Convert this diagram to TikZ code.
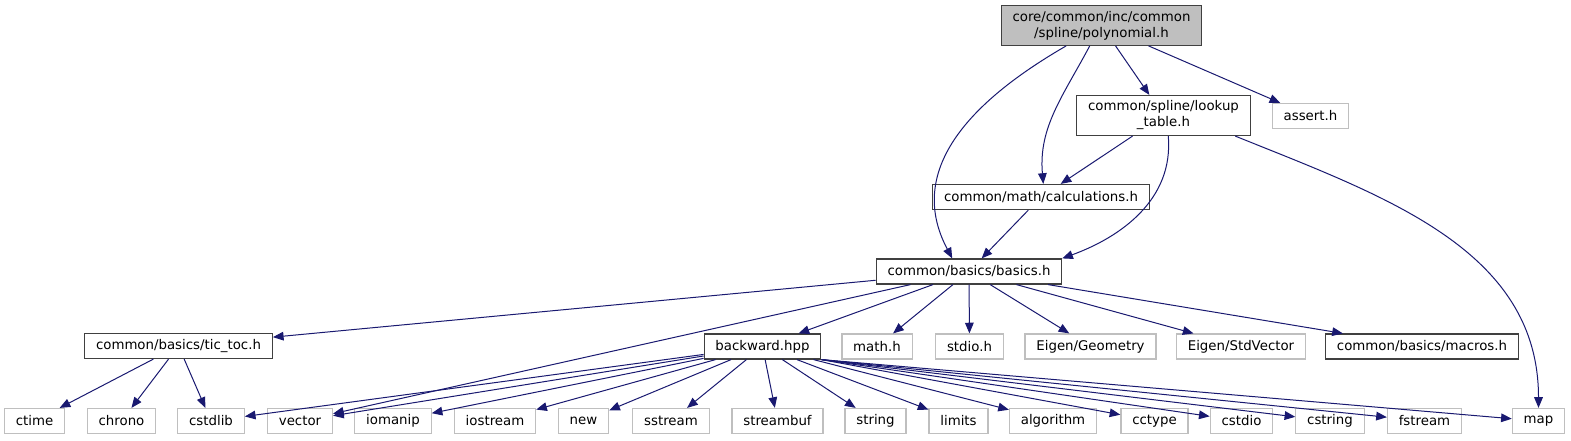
\documentclass[tikz,border=0pt]{standalone}
\usepackage{fontspec}
\setmainfont{DejaVu Sans}
\usetikzlibrary{arrows.meta}
\definecolor{colEdge}{HTML}{191970}
\definecolor{colDoc}{HTML}{404040}
\definecolor{colSys}{HTML}{BFBFBF}
\definecolor{colRoot}{HTML}{BFBFBF}
\tikzset{
  hbox/.style={draw=colDoc,line width=0.9pt,fill=white,align=center,inner xsep=8.5pt,
    inner ysep=4pt,minimum height=18.75pt,font=\fontsize{10}{12}\selectfont},
  xbox/.style={hbox,draw=colSys},
  rbox/.style={hbox,fill=colRoot},
  incarr/.style={-{Triangle[length=8pt,width=6.5pt]},line width=0.75pt,draw=colEdge},
}

\begin{document}
\begin{tikzpicture}[x=0.75pt,y=-0.75pt]
  \useasboundingbox (0,0) rectangle (1571,440);
  % top part
  \node[rbox] (root) at (1101.5,25.5) {core/common/inc/common\\/spline/polynomial.h};
  \node[hbox] (lookup) at (1163.5,115.5) {common/spline/lookup\\\_table.h};
  \node[xbox] (assert) at (1310.5,116) {assert.h};
  \node[hbox] (calc) at (1041,197) {common/math/calculations.h};
  \node[hbox] (basics) at (969,271.5) {common/basics/basics.h};
  % middle row
  \node[hbox] (tictoc) at (178.5,346) {common/basics/tic\_toc.h};
  \node[hbox] (backward) at (762.5,346.5) {backward.hpp};
  \node[xbox] (mathh) at (877,346.5) {math.h};
  \node[xbox] (stdioh) at (969.5,346.5) {stdio.h};
  \node[xbox] (eigengeo) at (1090.5,346.5) {Eigen/Geometry};
  \node[xbox] (eigenvec) at (1241,346.5) {Eigen/StdVector};
  \node[hbox] (macros) at (1422,346.5) {common/basics/macros.h};
  % bottom row
  \node[xbox] (ctime) at (34.5,421) {ctime};
  \node[xbox] (chrono) at (121.5,421) {chrono};
  \node[xbox] (cstdlib) at (211,421) {cstdlib};
  \node[xbox] (vector) at (300,421) {vector};
  \node[xbox] (iomanip) at (393,421) {iomanip};
  \node[xbox] (iostream) at (495,421) {iostream};
  \node[xbox] (new) at (583.5,421) {new};
  \node[xbox] (sstream) at (671,421) {sstream};
  \node[xbox] (streambuf) at (777.5,421) {streambuf};
  \node[xbox] (string) at (875.5,421) {string};
  \node[xbox] (limits) at (958.5,421) {limits};
  \node[xbox] (algorithm) at (1053,421) {algorithm};
  \node[xbox] (cctype) at (1154.5,421) {cctype};
  \node[xbox] (cstdio) at (1241.5,421) {cstdio};
  \node[xbox] (cstring) at (1330,421) {cstring};
  \node[xbox] (fstream) at (1424.5,421) {fstream};
  \node[xbox] (map) at (1538.5,421) {map};
  % includes
  \draw[incarr] (root.210) to[out=-150,in=118,looseness=1.1] (basics.142);
  \draw[incarr] (root.240) to[out=-118,in=95] (calc.80);
  \draw[incarr] (root) -- (lookup);
  \draw[incarr] (root) -- (assert);
  \draw[incarr] (lookup) -- (calc);
  \draw[incarr] (lookup.-77) to[out=-85,in=20] (basics.8);
  \draw[incarr] (lookup.-16) to[out=-22,in=90] (map.north);
  \draw[incarr] (calc) -- (basics);
  \foreach \t in {tictoc,vector,backward,mathh,stdioh,eigengeo,eigenvec,macros}
    \draw[incarr] (basics) -- (\t);
  \foreach \t in {ctime,chrono,cstdlib}
    \draw[incarr] (tictoc) -- (\t);
  \foreach \t in {cstdlib,vector,iomanip,iostream,new,sstream,streambuf,string,limits,algorithm}
    \draw[incarr] (backward) -- (\t);
  \foreach \t in {cctype,cstdio,cstring,fstream,map}
    \draw[incarr] (backward.south east) -- (\t);
\end{tikzpicture}
\end{document}
